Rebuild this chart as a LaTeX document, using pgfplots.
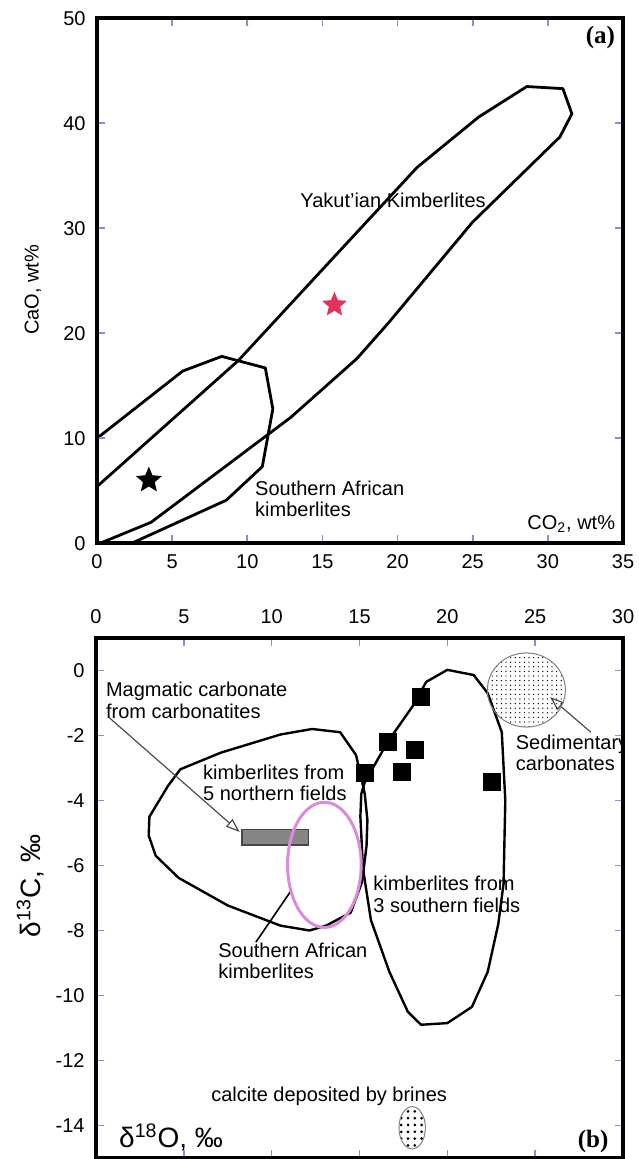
\documentclass[border=0pt]{standalone}
\usepackage{fontspec}
\setmainfont{Liberation Sans}
\newfontfamily\serifbold{Liberation Serif}
\usepackage{pgfplots}
\pgfplotsset{compat=1.18}
\usetikzlibrary{arrows.meta,patterns,patterns.meta}

\definecolor{tickblue}{RGB}{140,140,220}
\definecolor{starred}{RGB}{228,50,90}
\definecolor{pinkv}{RGB}{218,140,218}

\pgfdeclareplotmark{fstar}{%
  \pgfpathmoveto{\pgfqpointpolar{90}{\pgfplotmarksize}}%
  \pgfpathlineto{\pgfqpointpolar{126}{0.45\pgfplotmarksize}}%
  \pgfpathlineto{\pgfqpointpolar{162}{\pgfplotmarksize}}%
  \pgfpathlineto{\pgfqpointpolar{198}{0.45\pgfplotmarksize}}%
  \pgfpathlineto{\pgfqpointpolar{234}{\pgfplotmarksize}}%
  \pgfpathlineto{\pgfqpointpolar{270}{0.45\pgfplotmarksize}}%
  \pgfpathlineto{\pgfqpointpolar{306}{\pgfplotmarksize}}%
  \pgfpathlineto{\pgfqpointpolar{342}{0.45\pgfplotmarksize}}%
  \pgfpathlineto{\pgfqpointpolar{18}{\pgfplotmarksize}}%
  \pgfpathlineto{\pgfqpointpolar{54}{0.45\pgfplotmarksize}}%
  \pgfpathclose
  \pgfusepathqfillstroke}

\pgfplotsset{
  myaxis/.style={
    scale only axis, anchor=south west,
    axis line style={line width=1.8pt, black},
    tick style={color=tickblue, line width=0.8pt},
    major tick length=4pt,
    tick align=inside,
    xtick pos=both, ytick pos=both,
    /pgf/number format/assume math mode=true,
    ticklabel style={font=\fontsize{10}{12}\selectfont},
    yticklabel style={xshift=-2.2pt},
  },
}
\tikzset{lab/.style={font=\fontsize{10}{10.8}\selectfont, inner sep=0pt, align=left}}

\begin{document}
\begin{tikzpicture}
\useasboundingbox (0,0) rectangle (319pt,579.5pt);

% ---------------- panel (a) ----------------
\begin{axis}[myaxis, at={(48.5pt,307.85pt)}, width=263pt, height=262.5pt,
  xmin=0, xmax=35, ymin=0, ymax=50,
  xtick={0,5,...,35}, ytick={0,10,...,50},
  xticklabel style={yshift=-2.3pt},
  ylabel={CaO, wt\%},
  ylabel style={at={(axis description cs:-0.1217,0.4825)}, anchor=center, font=\fontsize{10}{12}\selectfont},
  axis on top]
% Yakutian kimberlites field
\addplot[line width=1.4pt, line join=round] coordinates {
 (0,5.4) (9.4,17.4) (15.6,27.0) (21.3,35.8) (25.4,40.6) (28.6,43.5) (31.0,43.3)
 (31.6,40.9) (30.8,38.7) (25.0,30.6) (19.4,21.0) (17.3,17.6) (12.9,12.0) (3.6,2.0) (0.2,0)};
% Southern African kimberlites field
\addplot[line width=1.4pt, line join=round] coordinates {
 (0,10) (5.7,16.4) (8.3,17.8) (11.2,16.7) (11.7,12.8) (11.0,7.3) (8.6,4.1) (2.3,0)};
% stars
\addplot[only marks, mark=fstar, mark size=6.3pt, mark options={fill=black, draw=black}] coordinates {(3.45,6.0)};
\addplot[only marks, mark=fstar, mark size=6pt, mark options={fill=starred, draw=starred}] coordinates {(15.8,22.7)};
\node[lab] at (axis cs:19.7,32.7) {Yakut'ian Kimberlites};
\node[lab, anchor=west] at (axis cs:10.5,4.25) {Southern African\\kimberlites};
\node[lab, anchor=east] at (axis cs:34.5,1.85) {CO\textsubscript{2}, wt\%};
\node[inner sep=0pt, font=\serifbold\bfseries\fontsize{12.5}{14}\selectfont] at (axis cs:33.5,48.2) {(a)};
\end{axis}

% ---------------- panel (b) ----------------
\begin{axis}[myaxis, at={(48pt,0.5pt)}, width=263.5pt, height=260pt,
  xmin=0, xmax=30, ymin=-15, ymax=1,
  xtick={0,5,...,30}, ytick={-14,-12,...,0},
  xticklabel pos=upper,
  xticklabel style={yshift=3.8pt},
  ylabel={δ\textsuperscript{13}C, ‰},
  ylabel style={at={(axis description cs:-0.124,0.523)}, anchor=center, font=\fontsize{14}{16}\selectfont},
  axis on top]
% kimberlites from 5 northern fields
\addplot[line width=1.2pt, line join=round] coordinates {
 (3.0,-5.08) (3.04,-4.5) (4.1,-3.55) (4.8,-3.04) (7.1,-2.53) (10.5,-1.97) (12.3,-1.8)
 (13.9,-1.9) (14.8,-2.6) (15.1,-3.3) (15.3,-3.8) (15.45,-4.6) (15.4,-5.4) (15.15,-6.5)
 (14.5,-7.45) (13.1,-7.85) (12.15,-8.0) (10.5,-7.85) (7.5,-7.23) (4.7,-6.38) (3.4,-5.7)} -- cycle;
% kimberlites from 3 southern fields
\addplot[line width=1.2pt, line join=round] coordinates {
 (15.3,-3.44) (16.6,-2.2) (18.0,-1.12) (18.8,-0.35) (20.0,0.02) (21.5,-0.14) (22.3,-0.7)
 (23.1,-1.9) (23.3,-4.0) (23.2,-6.56) (22.9,-7.8) (22.3,-9.27) (21.4,-10.35) (20.0,-10.85)
 (18.5,-10.9) (17.75,-10.5) (16.7,-9.27) (15.65,-7.68) (15.2,-6.1) (15.05,-4.5) (15.1,-3.8)} -- cycle;
% magmatic carbonate box
\addplot[fill=gray!95, draw=gray!55!black, line width=0.7pt] coordinates {
 (8.3,-4.89) (12.1,-4.89) (12.1,-5.37) (8.3,-5.37)} -- cycle;
% arrows and leader line
\addplot[gray!60!black, line width=0.6pt, -{Triangle[open, length=7pt, width=5pt]}] coordinates {(0.75,-1.45) (8.18,-4.97)};
\addplot[gray!60!black, line width=0.6pt, -{Triangle[open, length=7pt, width=5pt]}] coordinates {(28.17,-1.9) (25.85,-0.82)};
\addplot[black, line width=0.8pt] coordinates {(9.1,-8.36) (11.1,-6.78)};
% Southern African kimberlites ellipse
\addplot[only marks, mark=o, mark size=18.4pt, mark options={draw=pinkv, line width=1.5pt, yscale=1.70}] coordinates {(13.0,-5.98)};
% sedimentary carbonates
\addplot[only marks, mark=*, mark size=19.5pt, mark options={draw=gray, line width=0.5pt, pattern={Dots[distance=2.3pt, radius=0.35pt]}, yscale=0.95}] coordinates {(24.5,-0.6)};
% calcite deposited by brines
\addplot[only marks, mark=*, mark size=6.6pt, mark options={draw=gray, line width=0.5pt, pattern={Dots[distance=3.4pt, radius=0.75pt]}, yscale=1.6}] coordinates {(18.0,-14.07)};
% samples
\addplot[only marks, mark=square*, mark size=4.2pt, black] coordinates {
 (15.3,-3.16) (16.6,-2.19) (18.5,-0.82) (18.15,-2.45) (17.4,-3.13) (22.55,-3.44)};
\node[lab, anchor=west] at (axis cs:0.55,-0.92) {Magmatic carbonate\\from carbonatites};
\node[lab, anchor=west] at (axis cs:6.08,-3.46) {kimberlites from\\5 northern fields};
\node[lab, anchor=west] at (axis cs:15.77,-6.89) {kimberlites from\\3 southern fields};
\node[lab, anchor=west] at (axis cs:6.94,-8.94) {Southern African\\kimberlites};
\node[lab, anchor=west] at (axis cs:23.88,-2.54) {Sedimentary\\carbonates};
\node[lab] at (axis cs:13.27,-13.1) {calcite deposited by brines};
\node[inner sep=0pt, anchor=west, font=\fontsize{14}{16}\selectfont] at (axis cs:1.3,-14.37) {δ\textsuperscript{18}O, ‰};
\node[inner sep=0pt, font=\serifbold\bfseries\fontsize{12.5}{14}\selectfont] at (axis cs:28.3,-14.5) {(b)};
\end{axis}
\end{tikzpicture}
\end{document}
